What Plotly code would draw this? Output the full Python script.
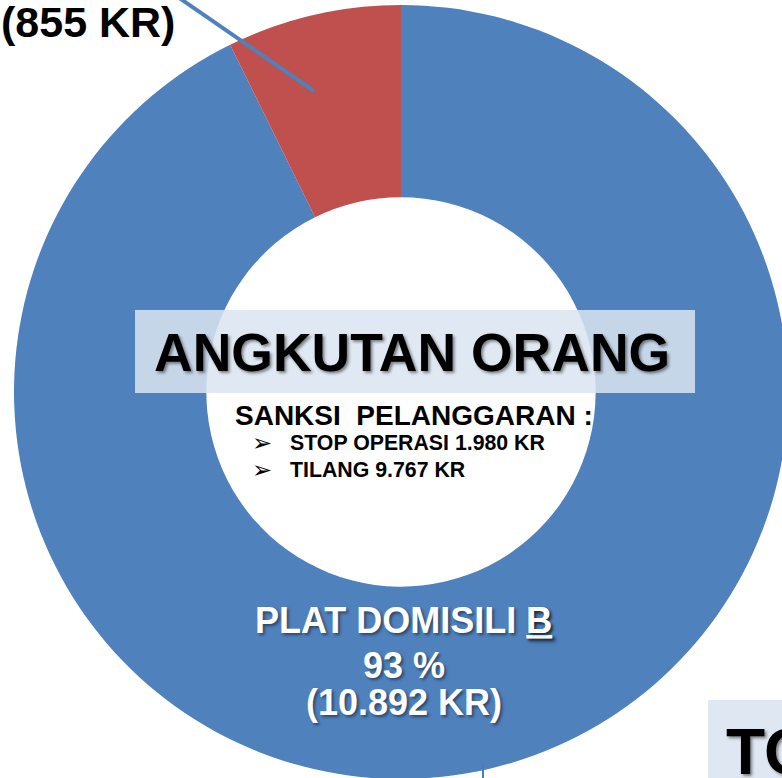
import plotly.graph_objects as go

# figure slightly larger than the 782x778 window so the ring can run past the right/bottom edge
W, H = 790, 782

# ---- data ----
labels = ["PLAT DOMISILI B", "PLAT LUAR B"]
values = [10892, 855]
colors = ["#4F81BD", "#C0504D"]
percent_main = 93
sanksi_items = ["STOP OPERASI 1.980 KR", "TILANG 9.767 KR"]
title_text = "ANGKUTAN ORANG"

def px(x):
    return x / W

def py(y):
    return 1 - y / H

FONT = "Arial, 'Liberation Sans', sans-serif"

# ring: centre (401, 392), outer radius 387 px
cx, cy, R = 401, 392, 387

fig = go.Figure(go.Pie(
    labels=labels,
    values=values,
    marker=dict(colors=colors, line=dict(width=0)),
    hole=0.503,
    sort=False,
    direction="clockwise",
    rotation=0,
    textinfo="none",
    hoverinfo="label+value+percent",
    showlegend=False,
    domain=dict(x=[px(cx - R), px(cx + R)], y=[py(cy + R), py(cy - R)]),
))

shapes = [
    # leader line for the small slice
    dict(type="line", xref="paper", yref="paper",
         x0=px(314), y0=py(91), x1=px(175), y1=py(-5),
         line=dict(color="#4F81BD", width=4)),
    # title box
    dict(type="rect", xref="paper", yref="paper",
         x0=px(135), x1=px(695), y0=py(310), y1=py(393),
         fillcolor="rgba(219,229,241,0.85)", line=dict(width=0)),
    # bottom-right box
    dict(type="rect", xref="paper", yref="paper",
         x0=px(708), x1=px(800), y0=py(700), y1=py(800),
         fillcolor="rgba(219,229,241,0.9)", line=dict(width=0)),
    # small leader at bottom
    dict(type="line", xref="paper", yref="paper",
         x0=px(483), x1=px(483), y0=py(763), y1=py(790),
         line=dict(color="#4A7EBB", width=2)),
]

dark_shadow = "2px 2px 3px rgba(0,0,0,0.45)"

ann = []
ann.append(dict(text="<b>(%s KR)</b>" % f"{values[1]:,}".replace(",", "."),
                x=px(-1), y=py(22), xanchor="left", yanchor="middle",
                font=dict(family=FONT, size=43, color="black")))
ann.append(dict(text="<b>%s</b>" % title_text,
                x=px(412), y=py(352), xanchor="center", yanchor="middle",
                font=dict(family=FONT, size=53.5, color="black", shadow=dark_shadow)))
ann.append(dict(text="<b>SANKSI\u00a0\u00a0PELANGGARAN :</b>",
                x=px(233), y=py(415), xanchor="left", yanchor="middle",
                font=dict(family=FONT, size=28, color="black")))
for i, item in enumerate(sanksi_items):
    yy = 443 + 27 * i
    ann.append(dict(text="\u27a2", x=px(250), y=py(yy), xanchor="left", yanchor="middle",
                    font=dict(family="DejaVu Sans", size=24, color="black")))
    ann.append(dict(text="<b>%s</b>" % item, x=px(288), y=py(yy), xanchor="left", yanchor="middle",
                    font=dict(family=FONT, size=21.3, color="black")))

main_lines = [
    "<b>PLAT DOMISILI <span style='text-decoration:underline'>B</span></b>",
    "<b>%d %%</b>" % percent_main,
    "<b>(%s KR)</b>" % f"{values[0]:,}".replace(",", "."),
]
for txt, yy in zip(main_lines, [620, 665, 702]):
    ann.append(dict(text=txt, x=px(404), y=py(yy), xanchor="center", yanchor="middle",
                    font=dict(family=FONT, size=36, color="white", shadow=dark_shadow)))

ann.append(dict(text="<b>TO</b>", x=px(724), y=py(752), xanchor="left", yanchor="middle",
                font=dict(family=FONT, size=64, color="black", shadow=dark_shadow)))

for a in ann:
    a.update(xref="paper", yref="paper", showarrow=False)

fig.update_layout(
    width=W, height=H,
    margin=dict(l=0, r=0, t=0, b=0),
    paper_bgcolor="white",
    plot_bgcolor="white",
    shapes=shapes,
    annotations=ann,
)

fig.write_html("out.html",
               config={"displayModeBar": False},
               post_script="document.body.style.margin='0';document.body.style.overflow='hidden';")
